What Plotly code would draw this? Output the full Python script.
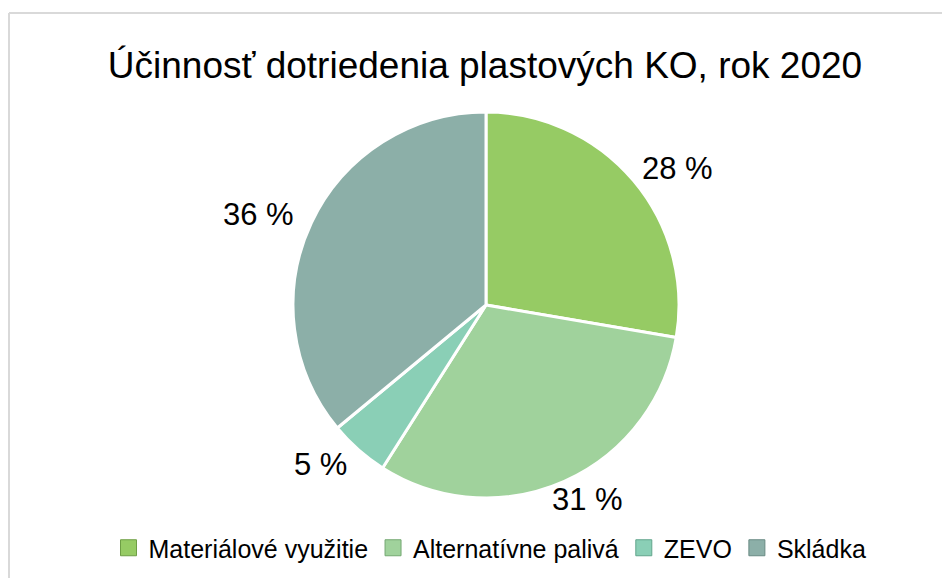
import math
import plotly.graph_objects as go

# Údaje
kategorie = ['Materiálové využitie', 'Alternatívne palivá', 'ZEVO', 'Skládka']
podiely = [27.7, 31.3, 5.0, 36.0]
farby = ['#96CB64', '#A0D29C', '#8ACFB6', '#8CAFA8']
okraje = ['#6E9E45', '#74A872', '#62A58C', '#688A83']

# stránka má okraj 8 px, graf sa kreslí od bodu (8, 8)
W, H = 942, 570
cx, cy, R = 478, 297, 193  # stred a polomer kruhu v pixeloch grafu

fig = go.Figure()

fig.add_trace(go.Pie(
    labels=kategorie,
    values=podiely,
    sort=False,
    direction='clockwise',
    rotation=0,
    marker=dict(colors=farby, line=dict(color='white', width=3)),
    textinfo='none',
    hoverinfo='label+percent',
    domain=dict(x=[(cx - R) / W, (cx + R) / W],
                y=[(H - cy - R) / H, (H - cy + R) / H]),
    showlegend=False
))

# Popisky percent mimo koláča (na elipse okolo kruhu, v strede výseku)
spolu = sum(podiely)
kum = 0
for v in podiely:
    uhol = 2 * math.pi * (kum + v / 2) / spolu
    kum += v
    px_ = cx + R * 1.3 * math.sin(uhol)
    py_ = cy - R * 1.1 * math.cos(uhol)
    fig.add_annotation(
        x=px_ / W, y=1 - py_ / H, xref='paper', yref='paper',
        xanchor='center', yanchor='middle',
        text=f'{round(v / spolu * 100)} %', showarrow=False,
        font=dict(size=31, color='#000000', family='Liberation Sans, Arial')
    )

# Legenda ako samostatné stopy so štvorcovými značkami
for nazov, f, o in zip(kategorie, farby, okraje):
    fig.add_trace(go.Scatter(
        x=[None], y=[None], mode='markers', name=nazov,
        marker=dict(symbol='square', size=16, color=f, line=dict(color=o, width=1))
    ))

# Rámik grafu
fig.add_shape(type='line', xref='paper', yref='paper',
              x0=1 / W, x1=1.02, y0=1 - 5 / H, y1=1 - 5 / H,
              line=dict(color='#D9D9D9', width=2))
fig.add_shape(type='line', xref='paper', yref='paper',
              x0=1 / W, x1=1 / W, y0=1 - 5 / H, y1=-0.02,
              line=dict(color='#D9D9D9', width=2))

fig.update_layout(
    width=W, height=H,
    margin=dict(l=0, r=0, t=0, b=0),
    paper_bgcolor='white',
    plot_bgcolor='white',
    font=dict(family='Liberation Sans, Arial', color='#000000'),
    title=dict(text='Účinnosť dotriedenia plastových KO, rok 2020',
               x=477 / W, xanchor='center', y=1 - 57 / H, yanchor='middle',
               font=dict(size=37, color='#000000')),
    xaxis=dict(visible=False),
    yaxis=dict(visible=False),
    legend=dict(orientation='h', x=482 / W, xanchor='center',
                y=1 - 540 / H, yanchor='middle',
                font=dict(size=25), itemsizing='trace',
                itemwidth=30, tracegroupgap=0, bgcolor='rgba(0,0,0,0)'),
    showlegend=True
)

fig.write_html('out.html')
